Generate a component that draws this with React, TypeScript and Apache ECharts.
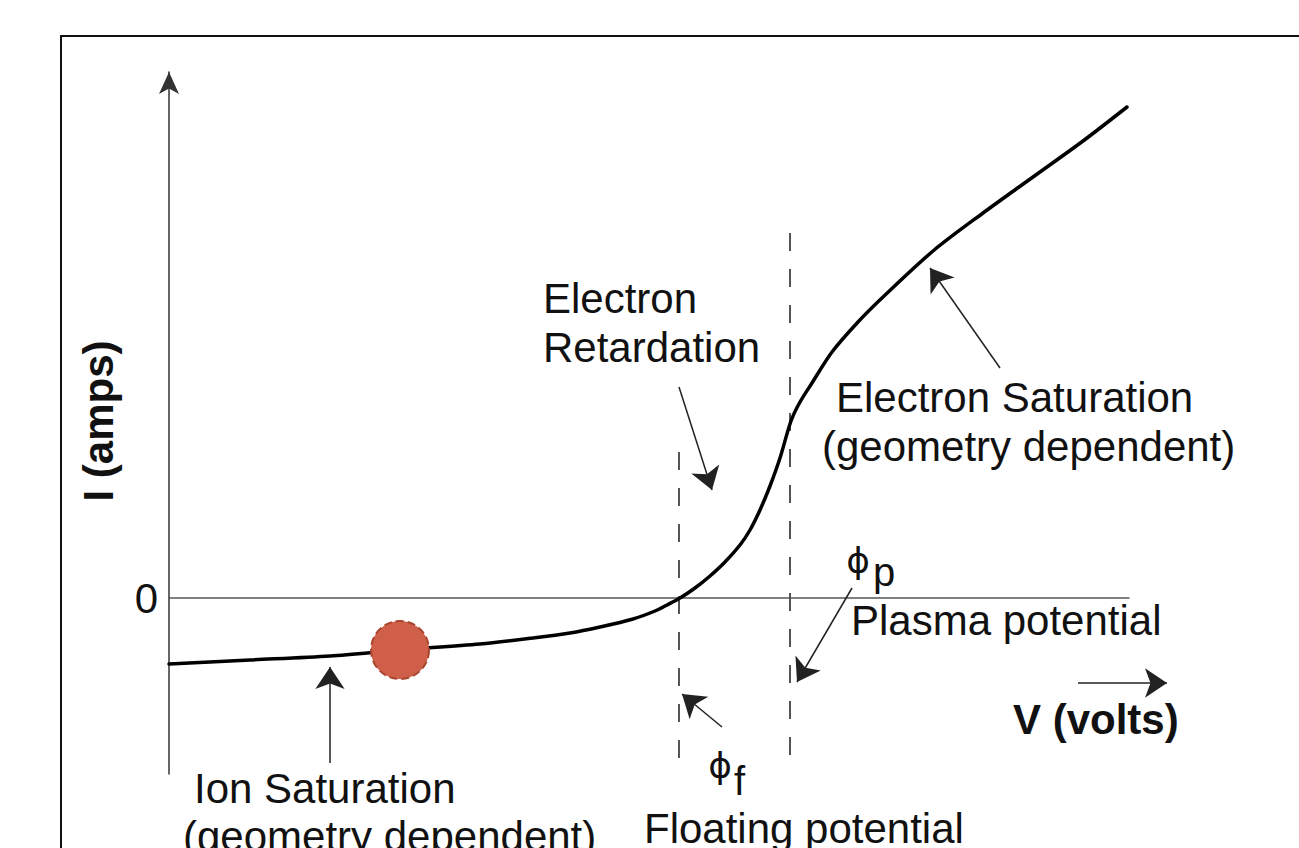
import React, { useEffect, useRef } from 'react';
import * as echarts from 'echarts';

// I-V characteristic of a Langmuir probe (arbitrary units; 1 unit ≈ 100 px)
const voltage = [0, 0.81, 1.61, 2.31, 3.11, 3.64, 4.01, 4.31, 4.64, 4.86, 4.98, 5.11, 5.26, 5.41, 5.56, 5.71, 5.81, 5.91, 6.01, 6.11, 6.22, 6.31, 6.43, 6.63, 6.89, 7.14, 7.64, 8.14, 8.64, 9.14, 9.58];
const current = [-0.66, -0.62, -0.58, -0.52, -0.46, -0.40, -0.35, -0.29, -0.21, -0.13, -0.07, 0, 0.10, 0.22, 0.36, 0.53, 0.68, 0.88, 1.12, 1.40, 1.77, 1.96, 2.15, 2.46, 2.76, 3.01, 3.47, 3.85, 4.21, 4.57, 4.91];

const probePoint = [2.31, -0.52];

const floatingPotential = 5.10;
const floatingDashRange = [1.46, -1.66];
const plasmaPotential = 6.21;
const plasmaDashRange = [3.65, -1.66];

const yTickLabels = ['0'];

// annotation arrows: [fromV, fromI, toV, toI]
const arrowRetardation = [5.10, 2.11, 5.43, 1.08];
const arrowElectronSat = [8.31, 2.30, 7.61, 3.30];
const arrowPlasma = [6.83, 0.10, 6.28, -0.84];
const arrowFloating = [5.53, -1.29, 5.13, -0.96];
const arrowIonSat = [1.61, -1.65, 1.61, -0.69];
const arrowVoltage = [9.09, -0.85, 9.98, -0.85];
const arrows = [arrowRetardation, arrowElectronSat, arrowPlasma, arrowFloating, arrowIonSat, arrowVoltage];

const FONT = "'Liberation Sans', Arial, 'DejaVu Sans', sans-serif";
const PHI_FONT = "'DejaVu Sans', 'Liberation Sans', sans-serif";

function txt(text: string, x: number, y: number, opts: any = {}) {
  return {
    type: 'text',
    x,
    y,
    rotation: opts.rotation || 0,
    z: 10,
    style: {
      text,
      fontSize: opts.size || 42,
      fontFamily: opts.family || FONT,
      fontWeight: opts.bold ? 'bold' : 'normal',
      fill: '#111',
      align: opts.align || 'left',
      verticalAlign: 'middle',
    },
  };
}

export default function App() {
  const ref = useRef<HTMLDivElement>(null);

  useEffect(() => {
    document.body.style.margin = '0';
    const chart = echarts.init(ref.current!, null, { renderer: 'svg' });
    const option: any = {
      animation: false,
      backgroundColor: '#fff',
      grid: { left: 169, right: 170, top: 72, bottom: 74 },
      xAxis: {
        type: 'value',
        min: 0,
        max: 9.6,
        axisLine: { onZero: true, lineStyle: { color: '#555', width: 1.5 } },
        axisTick: { show: false },
        axisLabel: { show: false },
        splitLine: { show: false },
      },
      yAxis: {
        type: 'value',
        min: -1.76,
        max: 5.26,
        axisLine: {
          show: true,
          symbol: ['none', 'arrow'],
          symbolSize: [15, 22],
          lineStyle: { color: '#333', width: 1.5 },
        },
        axisTick: { show: false },
        splitLine: { show: false },
        axisLabel: {
          formatter: (v: number) => (Math.abs(v) < 1e-9 ? yTickLabels[0] : ''),
          fontSize: 42,
          fontFamily: FONT,
          color: '#111',
          margin: 11,
        },
      },
      series: [
        {
          type: 'line',
          data: [[floatingPotential, floatingDashRange[0]], [floatingPotential, floatingDashRange[1]]],
          symbol: 'none',
          lineStyle: { color: '#555', width: 2, type: [18, 18] },
          z: 1,
          silent: true,
        },
        {
          type: 'line',
          data: [[plasmaPotential, plasmaDashRange[0]], [plasmaPotential, plasmaDashRange[1]]],
          symbol: 'none',
          lineStyle: { color: '#555', width: 2, type: [18, 18] },
          z: 1,
          silent: true,
        },
        {
          type: 'line',
          data: voltage.map((v, i) => [v, current[i]]),
          symbol: 'none',
          smooth: 0.3,
          lineStyle: { color: '#000', width: 3.5, join: 'round', cap: 'round' },
          z: 3,
        },
        {
          type: 'scatter',
          data: [probePoint],
          symbol: 'circle',
          symbolSize: 58,
          itemStyle: { color: '#cf5f48', borderColor: '#a9452f', borderType: 'dashed', borderWidth: 2, opacity: 1 },
          z: 5,
        },
        {
          type: 'lines',
          coordinateSystem: 'cartesian2d',
          clip: false,
          data: arrows.map((a) => ({ coords: [[a[0], a[1]], [a[2], a[3]]] })),
          symbol: ['none', 'arrow'],
          symbolSize: 22,
          lineStyle: { color: '#222', width: 1.5, opacity: 1 },
          z: 6,
        },
      ],
      graphic: [
        {
          type: 'rect',
          shape: { x: 61, y: 36, width: 1300, height: 900 },
          style: { fill: 'none', stroke: '#111', lineWidth: 2 },
          z: 0,
        },
        txt('Electron', 543, 298),
        txt('Retardation', 543, 347),
        txt('Electron Saturation', 836, 397),
        txt('(geometry dependent)', 822, 446),
        txt('Plasma potential', 851, 620),
        txt('Floating potential', 644, 828),
        txt('Ion Saturation', 194, 788),
        txt('(geometry dependent)', 183, 836),
        txt('V (volts)', 1013, 719, { bold: true }),
        txt('I (amps)', 98, 421, { bold: true, rotation: Math.PI / 2, align: 'center' }),
        txt('\u03D5', 858, 560, { size: 36, family: PHI_FONT, align: 'center' }),
        txt('p', 873, 572, { size: 40 }),
        txt('\u03D5', 720, 765, { size: 36, family: PHI_FONT, align: 'center' }),
        txt('f', 734, 781, { size: 40 }),
      ],
    };
    chart.setOption(option);
    return () => chart.dispose();
  }, []);

  return <div ref={ref} style={{ width: 1299, height: 848 }} />;
}
